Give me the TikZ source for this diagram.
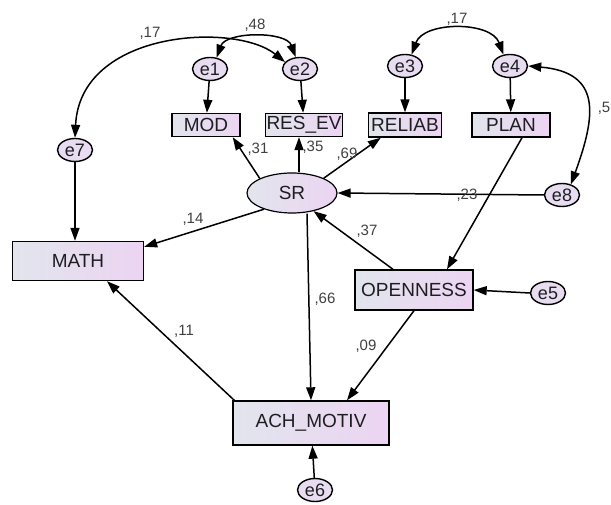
\documentclass[tikz,border=0pt]{standalone}
\usepackage{fontspec}
\setmainfont{Liberation Sans}
\usetikzlibrary{arrows.meta,shapes.geometric}

\definecolor{boxleft}{RGB}{226,229,237}
\definecolor{boxright}{RGB}{236,212,242}
\definecolor{errfill}{RGB}{232,220,240}
\definecolor{txt}{RGB}{30,30,34}

\tikzset{
  box/.style={draw, line width=1.4pt, rectangle, inner sep=0pt, left color=boxleft, right color=boxright, text=txt, font=\fontsize{19}{21}\selectfont},
  err/.style={draw, line width=1.4pt, ellipse, inner sep=0pt, minimum width=35pt, minimum height=23pt, fill=errfill, text=txt, font=\fontsize{18}{20}\selectfont},
  lat/.style={draw, line width=1.2pt, ellipse, inner sep=0pt, left color=boxleft, right color=boxright, text=txt, font=\fontsize{19}{21}\selectfont},
  arr/.style={line width=1.5pt, -{Triangle[length=13pt,width=9pt]}},
  cov/.style={line width=1.5pt, {Triangle[length=13pt,width=9pt]}-{Triangle[length=13pt,width=9pt]}},
  coef/.style={inner sep=0pt, text=txt!85, font=\fontsize{15}{17}\selectfont}
}

\begin{document}
\begin{tikzpicture}[x=1pt,y=1pt]
    \useasboundingbox (0,0) rectangle (611,-505);

    % draw error terms
    \node[err] (e1) at (210,-69) {e1};
    \node[err] (e2) at (300,-69) {e2};
    \node[err] (e3) at (405,-66) {e3};
    \node[err] (e4) at (510,-66) {e4};
    \node[err] (e7) at (75,-150) {e7};
    \node[err] (e8) at (562,-195) {e8};
    \node[err] (e5) at (548,-293) {e5};
    \node[err] (e6) at (315,-490) {e6};

    % draw observed variables
    \node[box, minimum width=68pt, minimum height=23pt] (MOD) at (206,-125) {MOD};
    \node[box, minimum width=77pt, minimum height=23pt] (RESEV) at (304,-125) {RES\_EV};
    \node[box, minimum width=73pt, minimum height=24pt] (RELIAB) at (405,-125) {RELIAB};
    \node[box, minimum width=78pt, minimum height=24pt] (PLAN) at (511,-125) {PLAN};
    \node[box, minimum width=131pt, minimum height=39pt] (MATH) at (78,-261) {MATH};
    \node[box, minimum width=118pt, minimum height=40pt] (OPEN) at (414,-290) {OPENNESS};
    \node[box, minimum width=156pt, minimum height=44pt] (ACH) at (311,-423) {ACH\_MOTIV};

    % draw latent variable
    \node[lat, minimum width=90pt, minimum height=40pt] (SR) at (292,-193) {SR};

    % draw paths
    \draw[arr] (e1) -- (MOD);
    \draw[arr] (e2) -- (RESEV);
    \draw[arr] (e3) -- (RELIAB);
    \draw[arr] (e4) -- (PLAN);
    \draw[arr] (e7) -- (e7 |- MATH.north);
    \draw[arr] (e6) -- (ACH);
    \draw[arr] (e5.west) -- (OPEN.east);
    \draw[arr] (e8.west) -- (SR.east);
    \draw[arr] (SR.north west) -- ([xshift=-8pt]MOD.south east);
    \draw[arr] ([xshift=7pt]SR.north) -- ([xshift=-5pt]RESEV.south);
    \draw[arr] (SR.25) -- ([xshift=13pt]RELIAB.south west);
    \draw[arr] (SR.210) -- ([yshift=-6pt]MATH.north east);
    \draw[arr] ([xshift=15pt]SR.south) -- (ACH.north);
    \draw[arr] ([xshift=11pt]PLAN.south) -- ([xshift=33pt]OPEN.north);
    \draw[arr] ([xshift=-21pt]OPEN.north) -- (SR.-40);
    \draw[arr] (OPEN.south) -- ([xshift=36pt]ACH.north);
    \draw[arr] ([xshift=2pt]ACH.north west) -- ([xshift=29pt]MATH.south);

    % draw covariances
    \draw[cov] (e1.60) to[out=70,in=110,looseness=0.9] (e2.110);
    \draw[cov] (e7.north) .. controls (80,-30) and (235,-22) .. (e2.155);
    \draw[cov] (e3.60) to[out=70,in=110,looseness=1.0] (e4.120);
    \draw[cov] (e4.east) to[out=-5,in=70,looseness=1.5] (e8.50);

    % draw coefficients
    \node[coef] (c17a) at (150,-33) {,17};
    \node[coef] (c48) at (255,-25) {,48};
    \node[coef] (c17b) at (457,-19) {,17};
    \node[coef] (c5) at (604,-108) {,5};
    \node[coef] (c31) at (258,-149) {,31};
    \node[coef] (c35) at (313,-147) {,35};
    \node[coef] (c69) at (347,-154) {,69};
    \node[coef] (c14) at (193,-219) {,14};
    \node[coef] (c23) at (467,-195) {,23};
    \node[coef] (c37) at (367,-231) {,37};
    \node[coef] (c66) at (325,-299) {,66};
    \node[coef] (c11) at (184,-331) {,11};
    \node[coef] (c09) at (366,-346) {,09};

  \end{tikzpicture}
\end{document}
